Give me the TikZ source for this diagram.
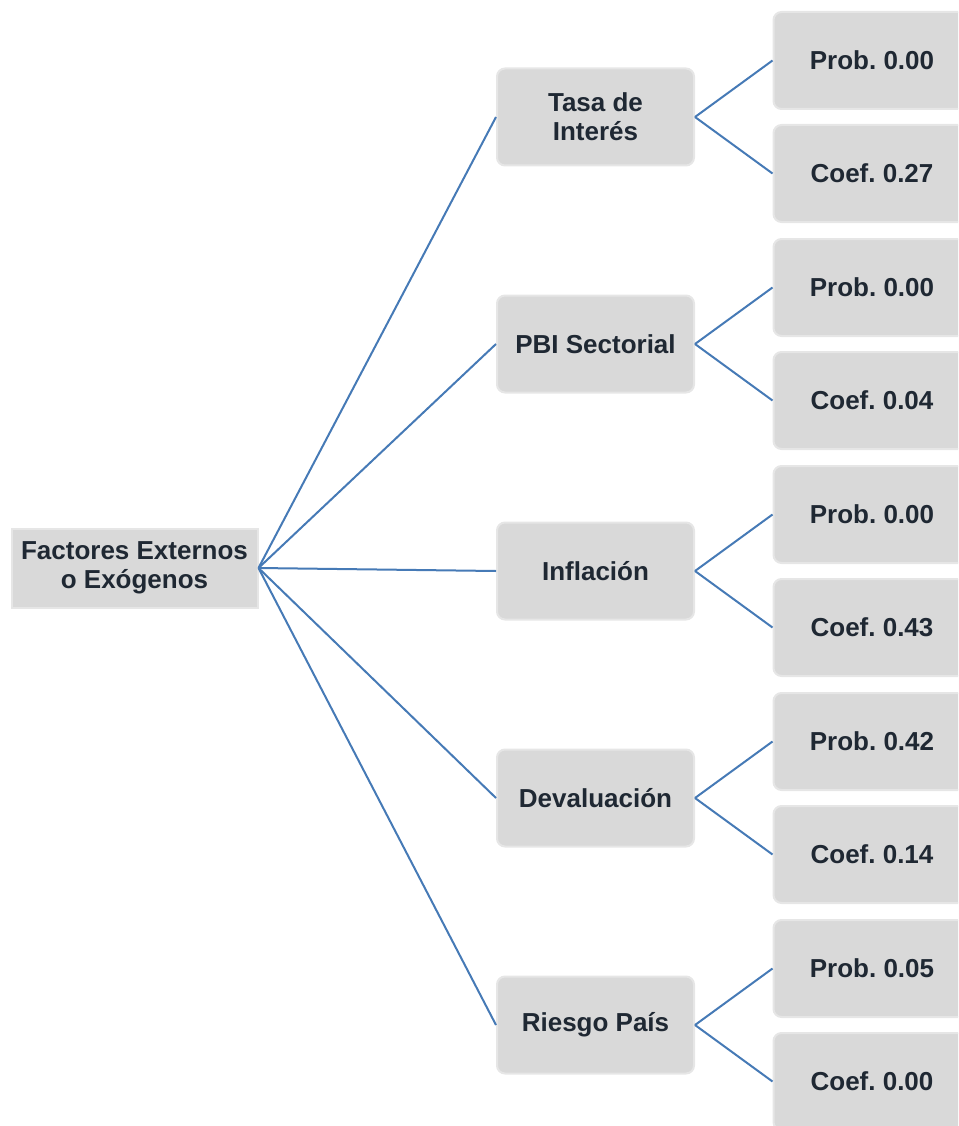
\documentclass[tikz,border=0pt]{standalone}
\usepackage{fontspec}
\setmainfont{Liberation Sans}
\frenchspacing
\definecolor{boxfill}{HTML}{D9D9D9}
\definecolor{boxline}{HTML}{E6E6E6}
\definecolor{txt}{HTML}{1F2833}
\definecolor{conn}{RGB}{70,122,182}
\tikzset{
  base/.style={fill=boxfill, draw=boxline, line width=2pt, inner sep=0pt, align=center,
    text=txt, font=\fontsize{26}{29}\selectfont\bfseries},
  rootbox/.style={base, minimum width=246pt, minimum height=79pt},
  midbox/.style={base, rounded corners=8pt, minimum width=197pt, minimum height=97pt},
  leafbox/.style={base, rounded corners=8pt, minimum width=197pt, minimum height=97pt},
  conline/.style={draw=conn, line width=2pt}
}
\begin{document}
\begin{tikzpicture}[x=1pt,y=-1pt]
\useasboundingbox (0,0) rectangle (958,1126);
\clip (0,0) rectangle (958,1126);
\node[rootbox] (root) at (134.5,568) {Factores Externos\\o Exógenos};
\node[midbox] (m1) at (595.5,117) {Tasa de\\Interés};
\node[midbox] (m2) at (595.5,344) {PBI Sectorial};
\node[midbox] (m3) at (595.5,571) {Inflación};
\node[midbox] (m4) at (595.5,798) {Devaluación};
\node[midbox] (m5) at (595.5,1025) {Riesgo País};
\node[leafbox] (p1) at (872,60.5) {Prob. 0.00};
\node[leafbox] (c1) at (872,173.5) {Coef. 0.27};
\node[leafbox] (p2) at (872,287.5) {Prob. 0.00};
\node[leafbox] (c2) at (872,400.5) {Coef. 0.04};
\node[leafbox] (p3) at (872,514.5) {Prob. 0.00};
\node[leafbox] (c3) at (872,627.5) {Coef. 0.43};
\node[leafbox] (p4) at (872,741.5) {Prob. 0.42};
\node[leafbox] (c4) at (872,854.5) {Coef. 0.14};
\node[leafbox] (p5) at (872,968.5) {Prob. 0.05};
\node[leafbox] (c5) at (872,1081.5) {Coef. 0.00};
\foreach \m in {m1,m2,m3,m4,m5}{
  \draw[conline] (root.east) -- (\m.west);
}
\foreach \m/\p/\c in {m1/p1/c1,m2/p2/c2,m3/p3/c3,m4/p4/c4,m5/p5/c5}{
  \draw[conline] (\m.east) -- (\p.west);
  \draw[conline] (\m.east) -- (\c.west);
}
\end{tikzpicture}
\end{document}
